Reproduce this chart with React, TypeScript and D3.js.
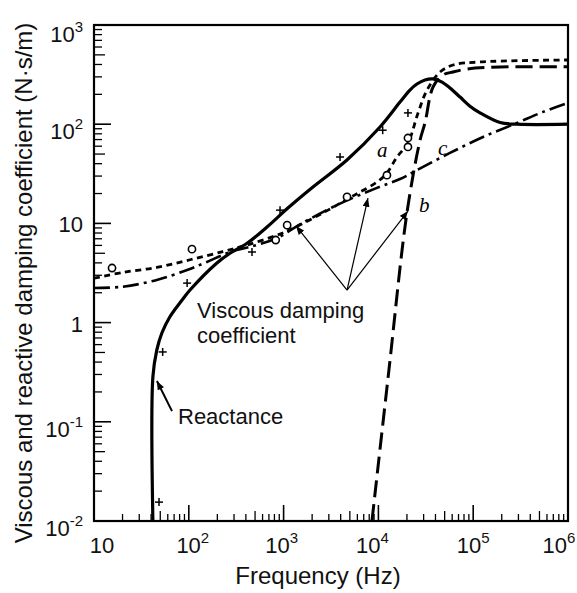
import React from 'react';
import * as d3 from 'd3';

const W = 577;
const H = 593;
const left = 94;
const right = 568;
const top = 25;
const bottom = 521;

// decade exponents on each axis
const xExps = [1, 2, 3, 4, 5, 6];
const yExps = [-2, -1, 0, 1, 2, 3];
const xLabelNudge = [8, 4, -2, -6, 0, -9];

// solid thick curve
const solidFreq = [41.8, 41.8, 46, 52, 63, 85, 103, 198, 272, 411, 668, 1110, 2040, 4660, 10400, 16900, 21500, 25500, 31000, 37700, 46900, 56900, 72600, 92500, 118000, 192000, 290000, 1e6];
const solidVal = [0.01, 0.283, 0.53, 0.785, 1.14, 1.69, 2.13, 3.99, 5.0, 6.3, 9.2, 14.3, 23.3, 43.6, 93.7, 167, 221, 254, 279, 286, 266, 232, 188, 152, 130, 104, 100, 100];

// curve a (short dashes)
const aFreq = [10, 20, 46, 103, 228, 411, 850, 1160, 2500, 4670, 6400, 9660, 12300, 15700, 20500, 26200, 32600, 44700, 61200, 118000, 1e6];
const aVal = [2.8, 3.2, 3.6, 4.3, 5.2, 6.05, 7.6, 8.6, 12.5, 17.5, 20.7, 26.1, 32.2, 46.7, 64.6, 130, 221, 336, 395, 424, 444];

// curve b (long dashes)
const bFreq = [8550, 12900, 20000, 27500, 31000, 37700, 48000, 61200, 86000, 192000, 1e6];
const bVal = [0.01, 0.33, 12.8, 69, 103, 237, 313, 336, 360, 377, 380];

// curve c (dash-dot)
const cFreq = [10, 20, 46, 96, 155, 272, 443, 850, 1490, 3750, 9660, 16900, 25600, 56900, 127000, 290000, 545000, 1e6];
const cVal = [2.23, 2.3, 2.69, 3.39, 4.08, 5.15, 5.8, 7.1, 9.8, 15.5, 22.8, 28, 34.5, 51.3, 74.3, 103, 133, 164];

// measured points
const circleFreq = [15.5, 108, 826, 1090, 4670, 12300, 20500, 20500];
const circleVal = [3.55, 5.5, 6.8, 9.6, 18.5, 30.6, 59, 72.6];
const plusFreq = [48.5, 53, 96, 464, 917, 3940, 11100, 20500];
const plusVal = [0.0155, 0.506, 2.5, 5.15, 13.6, 46.7, 87, 130];

// arrows [fromF, fromV, toF, toV]
const arrows = [
  [66.5, 0.128, 46.1, 0.258],
  [4670, 2.13, 1352, 9.42],
  [4670, 2.13, 7760, 18.0],
  [4670, 2.13, 20500, 13.3],
];

const x = d3.scaleLog().domain([10, 1e6]).range([left, right]);
const y = d3.scaleLog().domain([0.01, 1000]).range([bottom, top]);

const line = d3.line().curve(d3.curveCatmullRom.alpha(0.5));
const path = (fs: number[], vs: number[]) =>
  line(fs.map((f, i) => [x(f), y(vs[i])] as [number, number])) || '';

const font = '"Liberation Sans", Arial, sans-serif';
const ink = '#111';

function PowText({ e, px, py, anchor }: { e: number; px: number; py: number; anchor: string }) {
  if (e === 0 || e === 1) {
    return (
      <text x={px} y={py} textAnchor={anchor} fontSize={22} fill={ink}>
        {e === 0 ? '1' : '10'}
      </text>
    );
  }
  return (
    <text x={px} y={py} textAnchor={anchor} fontSize={22} fill={ink}>
      10
      <tspan fontSize={15} dy={-10}>{e < 0 ? '-' + -e : String(e)}</tspan>
    </text>
  );
}

export default function App() {
  const minorX: { v: number; m: number }[] = [];
  for (let k = 1; k < 6; k++) for (let m = 2; m <= 9; m++) minorX.push({ v: m * 10 ** k, m });
  const minorY: { v: number; m: number }[] = [];
  for (let k = -2; k < 3; k++) for (let m = 2; m <= 9; m++) minorY.push({ v: m * 10 ** k, m });

  return (
    <svg width={W} height={H} style={{ position: 'absolute', left: 0, top: 0, background: '#fff' }} fontFamily={font}>
      <defs>
        <marker id="ah" viewBox="0 0 10 8" refX="10" refY="4" markerWidth="9" markerHeight="7"
          markerUnits="userSpaceOnUse" orient="auto">
          <path d="M0,0 L10,4 L0,8 z" fill="#000" />
        </marker>
      </defs>

      {/* ticks */}
      {minorX.map((t, i) => (
        <line key={'mx' + i} x1={x(t.v)} x2={x(t.v)} y1={bottom} y2={bottom - (t.m === 5 ? 10 : 7)} stroke="#000" strokeWidth={1.3} />
      ))}
      {xExps.map((e) => (
        <line key={'Mx' + e} x1={x(10 ** e)} x2={x(10 ** e)} y1={bottom} y2={bottom - 16} stroke="#000" strokeWidth={1.6} />
      ))}
      {minorY.map((t, i) => (
        <line key={'my' + i} x1={left} x2={left + (t.m === 5 ? 11 : 8)} y1={y(t.v)} y2={y(t.v)} stroke="#000" strokeWidth={1.3} />
      ))}
      {yExps.map((e) => (
        <line key={'My' + e} x1={left} x2={left + 17} y1={y(10 ** e)} y2={y(10 ** e)} stroke="#000" strokeWidth={1.6} />
      ))}

      {/* frame */}
      <rect x={left} y={top} width={right - left} height={bottom - top} fill="none" stroke="#000" strokeWidth={2.2} />

      {/* curves */}
      <path d={path(cFreq, cVal)} fill="none" stroke="#000" strokeWidth={2.6} strokeDasharray="16 5 3 5" />
      <path d={path(aFreq, aVal)} fill="none" stroke="#000" strokeWidth={2.8} strokeDasharray="6 4.5" />
      <path d={path(bFreq, bVal)} fill="none" stroke="#000" strokeWidth={3} strokeDasharray="17 7" />
      <path d={path(solidFreq, solidVal)} fill="none" stroke="#000" strokeWidth={3.2} />

      {/* measured points */}
      {circleFreq.map((f, i) => (
        <circle key={'c' + i} cx={x(f)} cy={y(circleVal[i])} r={3.6} fill="#fff" stroke="#000" strokeWidth={1.6} />
      ))}
      {plusFreq.map((f, i) => (
        <g key={'p' + i} stroke="#000" strokeWidth={1.5}>
          <line x1={x(f) - 4} x2={x(f) + 4} y1={y(plusVal[i])} y2={y(plusVal[i])} />
          <line x1={x(f)} x2={x(f)} y1={y(plusVal[i]) - 4} y2={y(plusVal[i]) + 4} />
        </g>
      ))}

      {/* arrows */}
      {arrows.map((a, i) => (
        <line key={'a' + i} x1={x(a[0])} y1={y(a[1])} x2={x(a[2])} y2={y(a[3])} stroke="#000"
          strokeWidth={i === 0 ? 2 : 1.2} markerEnd="url(#ah)" />
      ))}

      {/* curve letters */}
      <g fontFamily='"Liberation Serif", serif' fontStyle="italic" fontSize={21} fill="#000">
        <text x={377} y={157}>a</text>
        <text x={438} y={155}>c</text>
        <text x={419} y={212}>b</text>
      </g>

      {/* annotations */}
      <text x={197} y={318} fontSize={22} fill={ink}>Viscous damping</text>
      <text x={197} y={343} fontSize={22} fill={ink}>coefficient</text>
      <text x={178} y={424} fontSize={22} fill={ink}>Reactance</text>

      {/* tick labels */}
      {yExps.map((e) => (
        <PowText key={'yl' + e} e={e} px={83} py={y(10 ** e) + (e === 0 || e === 1 ? 9 : e === 3 ? 17 : 15)} anchor="end" />
      ))}
      {xExps.map((e, i) => (
        <PowText key={'xl' + e} e={e} px={x(10 ** e) + xLabelNudge[i]} py={553} anchor="middle" />
      ))}

      {/* axis titles */}
      <text x={318} y={584} textAnchor="middle" fontSize={24} fill={ink}>Frequency (Hz)</text>
      <text transform="translate(32,283) rotate(-90)" textAnchor="middle" fontSize={24} fill={ink}>
        Viscous and reactive damping coefficient (N·s/m)
      </text>
    </svg>
  );
}
